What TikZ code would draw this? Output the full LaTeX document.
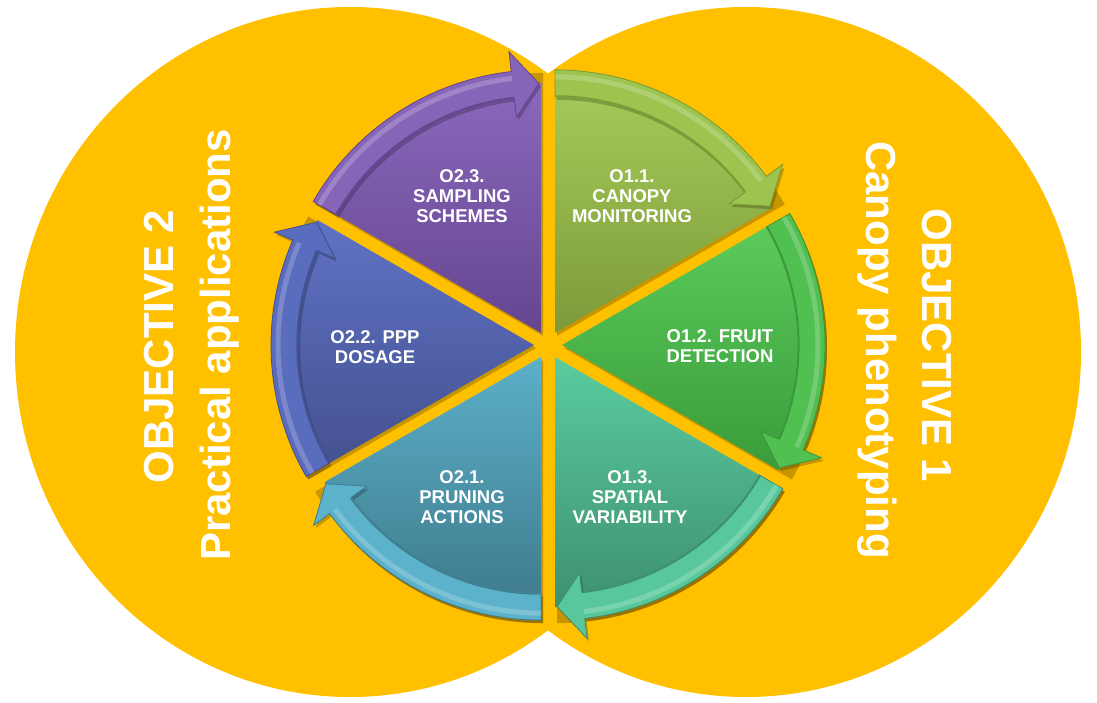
\documentclass[tikz,border=0pt]{standalone}
\usepackage{fontspec}
\setmainfont{Liberation Sans}
\definecolor{gold}{HTML}{FFC000}
\definecolor{caT}{HTML}{A6CB58}\definecolor{caB}{HTML}{7C9A3A}\definecolor{caA}{HTML}{9CC44E}\definecolor{caD}{HTML}{7A9A38}
\definecolor{cbT}{HTML}{5BCB5B}\definecolor{cbB}{HTML}{3A9C3A}\definecolor{cbA}{HTML}{50C050}\definecolor{cbD}{HTML}{3A963A}
\definecolor{ccT}{HTML}{5ACCA0}\definecolor{ccB}{HTML}{3E9070}\definecolor{ccA}{HTML}{58C89C}\definecolor{ccD}{HTML}{3C8E6E}
\definecolor{cdT}{HTML}{5BB0C8}\definecolor{cdB}{HTML}{3F7A8C}\definecolor{cdA}{HTML}{5CB2CA}\definecolor{cdD}{HTML}{3E7C8E}
\definecolor{ceT}{HTML}{5F72C4}\definecolor{ceB}{HTML}{44518F}\definecolor{ceA}{HTML}{5A6CBE}\definecolor{ceD}{HTML}{43508E}
\definecolor{cfT}{HTML}{8B68BC}\definecolor{cfB}{HTML}{654590}\definecolor{cfA}{HTML}{8664B8}\definecolor{cfD}{HTML}{644490}
\tikzset{
  lbl/.style={text=white, font=\bfseries\fontsize{18.5}{20}\selectfont, align=center, inner sep=0pt},
  big/.style={text=white, font=\bfseries\fontsize{42}{50}\selectfont, inner sep=0pt, anchor=base}
}
\begin{document}
\begin{tikzpicture}[x=1pt,y=1pt]
\useasboundingbox (0,0) rectangle (1097,703);
\fill[white] (0,0) rectangle (1097,703);
\fill[gold] (350,351) ellipse[x radius=335, y radius=345];
\fill[gold] (746,351) ellipse[x radius=335, y radius=345];
\coordinate (C) at (548,358);
\foreach \b/\ct/\cb/\ca/\cd in {60/caT/caB/caA/caD, 0/cbT/cbB/cbA/cbD, -60/ccT/ccB/ccA/ccD, -120/cdT/cdB/cdA/cdD, 180/ceT/ceB/ceA/ceD, 120/cfT/cfB/cfA/cfD}{
  \pgfmathsetmacro\aa{\b+30}
  \pgfmathsetmacro\ab{\b-30}
  \pgfmathsetmacro\ah{\b-23.5}
  \pgfmathsetmacro\at{\b-29.5}
  \begin{scope}[shift={(C)}, shift={(\b:14)}]
    \fill[black, opacity=0.22, shift={(2,-3)}] (0,0) -- (\aa:263) arc[start angle=\aa, end angle=\ab, radius=263] -- cycle;
    \shade[top color=\ct, bottom color=\cb] (0,0) -- (\aa:250) arc[start angle=\aa, end angle=\ab, radius=250] -- cycle;
    \fill[black, opacity=0.22, shift={(2,-3)}] (\aa:263) arc[start angle=\aa, end angle=\ah, radius=263] -- (\ah:283) -- (\at:249.5) -- (\ah:217) -- (\ah:236) arc[start angle=\ah, end angle=\aa, radius=236] -- cycle;
    \fill[\ca, draw=\cd, line width=0.8pt, line join=miter] (\aa:263) arc[start angle=\aa, end angle=\ah, radius=263] -- (\ah:283) -- (\at:249.5) -- (\ah:217) -- (\ah:236) arc[start angle=\ah, end angle=\aa, radius=236] -- cycle;
    \draw[white, opacity=0.2, line width=5pt] (\aa:256) arc[start angle=\aa, end angle=\ah, radius=256];
    \draw[\cd, line width=1.2pt] (\aa:237) arc[start angle=\aa, end angle=\ah, radius=237];
  \end{scope}
}
\node[lbl] (l11) at (632,507) {O1.1.\\CANOPY\\MONITORING};
\node[lbl] (l12) at (720,357) {O1.2. FRUIT\\DETECTION};
\node[lbl] (l13) at (630,206) {O1.3.\\SPATIAL\\VARIABILITY};
\node[lbl] (l21) at (462,206) {O2.1.\\PRUNING\\ACTIONS};
\node[lbl] (l22) at (375,356) {O2.2. PPP\\DOSAGE};
\node[lbl] (l23) at (462,507) {O2.3.\\SAMPLING\\SCHEMES};
\node[big, rotate=90] (obj2) at (173,356) {OBJECTIVE 2};
\node[big, rotate=90] (prac) at (230,358) {Practical applications};
\node[big, rotate=-90] (obj1) at (922,358) {OBJECTIVE 1};
\node[big, rotate=-90] (cano) at (866,353) {Canopy phenotyping};
\end{tikzpicture}
\end{document}
